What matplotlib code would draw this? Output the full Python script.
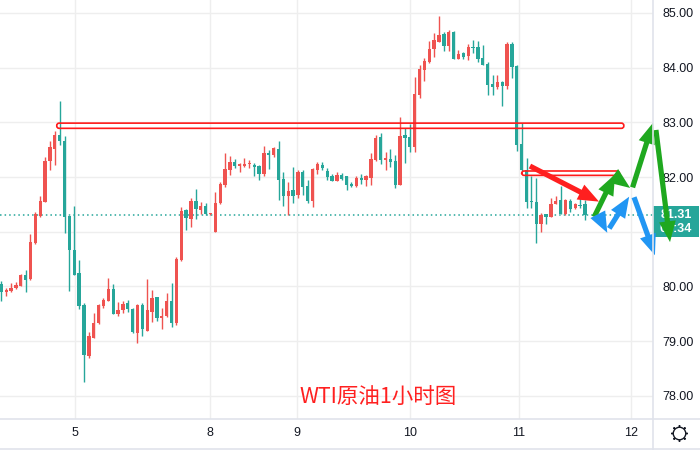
import matplotlib
matplotlib.use('Agg')
import matplotlib.pyplot as plt
import matplotlib.transforms as mtransforms
from matplotlib.patches import FancyArrowPatch, FancyBboxPatch, Rectangle
from matplotlib.lines import Line2D
import numpy as np

plt.rcParams['font.family'] = ['Liberation Sans', 'DejaVu Sans']

# WTI 1h candles
opens = [80.04, 79.90, 79.92, 79.97, 80.01, 80.20, 80.14, 80.79, 81.29, 81.55,
         82.30, 82.52, 82.77, 82.65, 81.29, 80.67, 80.25, 79.66, 78.73, 79.06,
         79.33, 79.64, 79.74, 79.95, 79.50, 79.56, 79.69, 79.59, 79.15, 79.66,
         79.19, 79.54, 79.81, 79.42, 79.45, 79.73, 79.34, 80.48, 81.40, 81.24,
         81.56, 81.40, 81.47, 81.32, 81.00, 81.52, 81.85, 82.13, 82.27, 82.21,
         82.21, 82.23, 82.22, 82.20, 82.05, 82.44, 82.40, 82.51, 81.96, 81.65,
         81.76, 81.67, 82.10, 81.84, 81.56, 82.13, 82.22, 82.11, 82.02, 81.93,
         82.04, 82.01, 81.87, 81.84, 81.98, 81.95, 81.99, 82.31, 82.73, 82.31,
         82.33, 82.29, 81.85, 82.77, 82.73, 82.54, 83.50, 83.96, 84.10, 84.34,
         84.47, 84.61, 84.40, 84.65, 84.16, 84.27, 84.22, 84.38, 84.38, 84.18,
         84.06, 83.70, 83.64, 83.74, 83.66, 84.43, 84.03, 82.60, 82.12, 81.56,
         81.55, 81.14, 81.32, 81.27, 81.51, 81.58, 81.32, 81.57, 81.43, 81.49,
         81.51]
highs = [80.10, 79.98, 80.07, 80.08, 80.23, 80.30, 80.95, 81.36, 81.65, 82.36,
         82.66, 82.84, 83.39, 82.75, 81.29, 81.47, 80.48, 79.69, 79.17, 79.52,
         79.67, 79.78, 80.15, 80.04, 79.71, 79.73, 79.75, 79.61, 79.67, 79.69,
         80.14, 79.93, 79.81, 79.60, 79.88, 80.07, 80.54, 81.46, 81.42, 81.62,
         81.78, 81.55, 81.52, 81.35, 81.73, 81.90, 82.43, 82.38, 82.33, 82.25,
         82.34, 82.31, 82.25, 82.22, 82.57, 82.49, 82.55, 82.65, 82.10, 81.90,
         82.19, 82.13, 82.13, 81.95, 82.17, 82.27, 82.27, 82.16, 82.06, 82.09,
         82.08, 82.02, 81.91, 82.02, 82.05, 82.03, 82.43, 82.77, 82.81, 82.46,
         82.51, 82.40, 83.10, 82.89, 82.97, 83.83, 84.05, 84.17, 84.49, 84.63,
         84.94, 84.66, 84.68, 84.67, 84.33, 84.29, 84.44, 84.50, 84.49, 84.42,
         84.11, 83.86, 83.86, 83.76, 84.47, 84.47, 84.05, 82.98, 82.34, 82.01,
         81.99, 81.34, 81.33, 81.61, 81.65, 81.84, 81.60, 81.60, 81.53, 81.63,
         81.58]
lows = [79.74, 79.83, 79.90, 79.95, 80.00, 79.90, 80.12, 80.77, 81.27, 81.55,
        82.13, 82.22, 82.59, 80.98, 79.92, 80.20, 79.59, 78.26, 78.70, 79.06,
        79.32, 79.61, 79.73, 79.50, 79.45, 79.52, 79.54, 79.14, 78.96, 79.09,
        79.19, 79.35, 79.37, 79.23, 79.44, 79.26, 79.29, 80.47, 81.04, 81.09,
        81.23, 81.32, 81.31, 81.31, 81.00, 81.50, 81.82, 82.04, 82.16, 82.10,
        82.19, 82.16, 82.02, 81.95, 82.02, 82.15, 82.36, 81.58, 81.47, 81.31,
        81.53, 81.62, 81.67, 81.53, 81.46, 82.05, 82.13, 81.95, 81.93, 81.93,
        81.95, 81.76, 81.82, 81.82, 81.87, 81.84, 81.85, 82.30, 82.24, 82.13,
        82.19, 81.79, 81.85, 82.26, 82.46, 82.46, 83.45, 83.76, 84.09, 84.19,
        84.47, 84.31, 84.31, 84.16, 84.15, 84.15, 84.13, 84.27, 84.11, 84.04,
        83.50, 83.50, 83.60, 83.29, 83.60, 83.81, 82.48, 82.11, 81.43, 81.43,
        80.80, 81.00, 81.15, 81.26, 81.50, 81.32, 81.30, 81.36, 81.41, 81.43,
        81.21]
closes = [79.90, 79.93, 79.97, 80.03, 80.21, 80.12, 80.81, 81.32, 81.56, 82.30,
          82.55, 82.77, 82.65, 81.27, 80.67, 80.21, 79.64, 78.75, 79.09, 79.33,
          79.66, 79.75, 79.95, 79.50, 79.57, 79.68, 79.58, 79.17, 79.66, 79.22,
          79.56, 79.79, 79.43, 79.46, 79.73, 79.34, 80.50, 81.38, 81.25, 81.56,
          81.41, 81.47, 81.32, 81.34, 81.52, 81.87, 82.14, 82.28, 82.21, 82.22,
          82.24, 82.24, 82.19, 82.05, 82.44, 82.40, 82.53, 81.95, 81.65, 81.74,
          81.65, 82.10, 81.82, 81.56, 82.15, 82.24, 82.17, 82.00, 81.93, 82.04,
          81.96, 81.85, 81.84, 81.99, 81.95, 82.02, 82.33, 82.71, 82.31, 82.35,
          82.27, 81.85, 82.75, 82.72, 82.54, 83.52, 83.97, 84.12, 84.34, 84.51,
          84.60, 84.40, 84.66, 84.16, 84.25, 84.19, 84.38, 84.36, 84.16, 84.05,
          83.68, 83.64, 83.74, 83.66, 84.43, 84.02, 82.58, 82.12, 81.55, 81.54,
          81.14, 81.31, 81.27, 81.51, 81.56, 81.32, 81.58, 81.41, 81.51, 81.47,
          81.31]

day_ticks = [15.05, 42.9, 60.8, 84.0, 106.4, 129.5]
day_labels = ['5', '8', '9', '10', '11', '12']
price_ticks = [78, 79, 80, 81, 82, 83, 84, 85]
price_labels = ['78.00', '79.00', '80.00', '', '82.00', '83.00', '84.00', '85.00']

# drawn zones (x0, x1, low, high) and arrows ((x, price) -> (x, price))
zones = [(11.4, 128.0, 82.89, 82.985), (107.0, 127.1, 82.03, 82.11)]
red_arrows = [((108.7, 82.20), (122.9, 81.55))]
green_arrows = [((121.9, 81.27), (126.2, 82.05)), ((126.8, 81.96), (129.3, 81.80)),
                ((129.8, 81.81), (134.0, 82.99)), ((134.6, 82.86), (137.5, 80.81))]
blue_arrows = [((122.7, 81.31), (124.6, 80.98)), ((125.0, 81.06), (129.1, 81.64)),
               ((130.1, 81.63), (134.4, 80.57))]

RED = '#ef5350'
GREEN = '#26a69a'

fig = plt.figure(figsize=(7, 4.5), dpi=100)
ax = fig.add_axes([0, 31 / 450, 653 / 700, 419 / 450])

o = np.array(opens)
h = np.array(highs)
l = np.array(lows)
c = np.array(closes)
x = np.arange(len(o))
cols = np.where(c >= o, RED, GREEN)

ax.vlines(x, l, h, colors=cols, linewidth=1, zorder=2)
ax.bar(x, np.maximum(np.abs(c - o), 0.02), bottom=np.minimum(o, c), width=0.68,
       color=cols, linewidth=0, zorder=3)

ax.set_xlim(-0.27, 134.0)
ax.set_ylim(77.576, 85.236)
ax.set_xticks(day_ticks)
ax.set_xticklabels(day_labels)
ax.set_yticks(price_ticks)
ax.set_yticklabels(price_labels)
ax.yaxis.tick_right()
ax.tick_params(axis='y', length=0, pad=7, labelsize=9, labelcolor='#131722')
ax.tick_params(axis='x', length=0, pad=6, labelsize=9, labelcolor='#131722')
ax.grid(color='#eeeeee', linewidth=1, zorder=0)
ax.set_axisbelow(True)
for s in ax.spines.values():
    s.set_visible(False)

# last price line and label
ax.axhline(closes[-1], color=GREEN, linestyle=(0, (1, 2)), linewidth=1.1, zorder=1)
bt = mtransforms.blended_transform_factory(ax.transAxes, ax.transData)
ax.add_patch(Rectangle((1.0, 80.908), 0.0704, 0.567, transform=bt, clip_on=False,
                       facecolor=GREEN, edgecolor='none', zorder=4))
ax.text(1.035, 81.31, '%.2f' % closes[-1], transform=bt, color='white', fontsize=9,
        fontweight='bold', ha='center', va='center', zorder=5, clip_on=False)
ax.text(1.035, 81.05, '05:34', transform=bt, color='white', fontsize=9,
        fontweight='bold', ha='center', va='center', zorder=5, clip_on=False)

# zones
asp = (4.864 / 54.7)
for x0, x1, lo, hi in zones:
    ax.add_patch(FancyBboxPatch((x0, lo), x1 - x0, hi - lo,
                                boxstyle='round,pad=0,rounding_size=0.5',
                                mutation_aspect=asp, facecolor='none',
                                edgecolor='#ff1a1a', linewidth=1.2, zorder=5))

# arrows
style = 'simple,head_length=1.0,head_width=0.8,tail_width=0.25'
for arrows, col in [(red_arrows, '#ff1f1f'), (green_arrows, '#1fa81f'), (blue_arrows, '#2196f3')]:
    for a, b in arrows:
        ax.add_patch(FancyArrowPatch(a, b, arrowstyle=style, mutation_scale=15,
                                     color=col, linewidth=0, clip_on=False, zorder=6,
                                     shrinkA=0, shrinkB=0))

ax.text(0.579, 0.050, 'WTI原油1小时图', transform=ax.transAxes, ha='center', va='center',
        color='#ff2020', fontsize=15.5, family=['Noto Sans CJK SC', 'DejaVu Sans'])

# panel separators and settings icon
fig.add_artist(Line2D([0, 1], [31 / 450, 31 / 450], color='#e0e3eb', linewidth=1.2))
fig.add_artist(Line2D([0, 1], [1 / 450, 1 / 450], color='#e0e3eb', linewidth=1.2))
fig.add_artist(Line2D([653 / 700, 653 / 700], [0, 1], color='#e0e3eb', linewidth=1.2))
fig.add_artist(Line2D([679 / 700], [1 - 433 / 450], marker=(8, 2, 0), markersize=12,
                      color='#131722', markeredgewidth=1.0))
fig.add_artist(Line2D([679 / 700], [1 - 433 / 450], marker='o', markersize=9,
                      markerfacecolor='white', markeredgecolor='#131722', markeredgewidth=1.0))

fig.savefig('out.png', dpi=100)
